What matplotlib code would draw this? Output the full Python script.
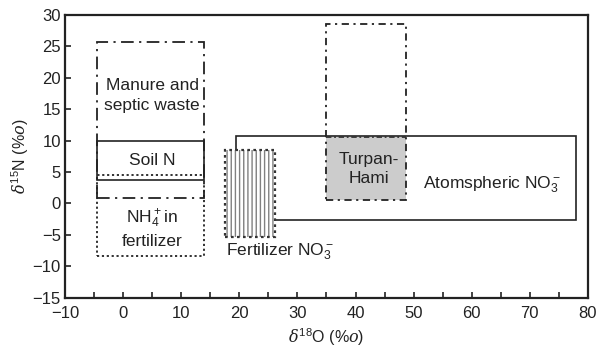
import matplotlib.pyplot as plt
from matplotlib.patches import Rectangle
import numpy as np

plt.rcParams['font.family'] = ['Liberation Sans', 'DejaVu Sans']
plt.rcParams['mathtext.fontset'] = 'custom'
plt.rcParams['mathtext.rm'] = 'Liberation Sans'
plt.rcParams['mathtext.it'] = 'DejaVu Serif:italic'

# source boxes: (x0, x1, y0, y1) in delta18O / delta15N
manure = (-4.5, 14, 0.8, 25.7)
soil_n = (-4.5, 14, 3.7, 10)
nh4_fert = (-4.5, 14, -8.4, 4.6)
fert_no3 = (17.5, 26.2, -5.3, 8.5)
atm_no3 = (19.5, 78, -2.6, 10.8)
turpan_outer = (35, 48.7, 0.5, 28.6)
turpan_inner = (35, 48.7, 0.5, 10.6)

labels = ['Manure and\nseptic waste', 'Soil N', 'NH$_4^+$in\nfertilizer',
          'Fertilizer NO$_3^-$', 'Turpan-\nHami', 'Atomspheric NO$_3^-$']
label_x = [5.0, 5.0, 5.0, 27.0, 42.3, 63.5]
label_y = [17.2, 6.9, -3.9, -7.7, 5.5, 2.9]

x_ticks = np.arange(-10, 81, 10)
y_ticks = np.arange(-15, 31, 5)

def box(ax, r, **kw):
    x0, x1, y0, y1 = r
    p = Rectangle((x0, y0), x1 - x0, y1 - y0, **kw)
    ax.add_patch(p)
    return p

fig = plt.figure(figsize=(5.99, 3.49), dpi=100)
ax = fig.add_axes([0.1085, 0.147, 0.873, 0.81])

dashdot = (0, (7, 3, 1.2, 3))
dotted = (0, (1.2, 1.5))

box(ax, atm_no3, fill=False, ec='#222222', lw=1.2, zorder=2)
box(ax, manure, fill=False, ec='#222222', lw=1.3, ls=dashdot, zorder=3)
box(ax, nh4_fert, fill=False, ec='#222222', lw=1.3, ls=dotted, zorder=3)
box(ax, soil_n, fill=False, ec='#222222', lw=1.2, zorder=4)
# hatched fertilizer box: hatch takes the edge colour, border drawn on top
box(ax, fert_no3, fc='white', ec='#808080', lw=0, hatch='||||', zorder=3)
box(ax, fert_no3, fill=False, ec='#333333', lw=1.6, ls=dotted, zorder=4)
box(ax, turpan_inner, fc='#cccccc', ec='none', zorder=3)
box(ax, turpan_outer, fill=False, ec='#222222', lw=1.3, ls=(0, (4, 2.5, 1.2, 2.5)), zorder=4)
ax.plot([turpan_inner[0], turpan_inner[1]], [turpan_inner[3], turpan_inner[3]],
        color='#333333', lw=1.3, ls=(0, (3, 1.5, 1, 1.5)), zorder=4)

for t, x, y in zip(labels, label_x, label_y):
    ax.text(x, y, t, ha='center', va='center', fontsize=12.5, color='#222222',
            linespacing=1.35, zorder=5)

ax.set_xlim(-10, 80)
ax.set_ylim(-15, 30)
ax.set_xticks(x_ticks)
ax.set_xticks(np.arange(-5, 80, 10), minor=True)
ax.set_yticks(y_ticks)
ax.set_xticklabels(['\u2212%d' % -v if v < 0 else str(v) for v in x_ticks])
ax.set_yticklabels(['\u2212%d' % -v if v < 0 else str(v) for v in y_ticks])
ax.tick_params(which='both', direction='in', length=4, width=1.2, labelsize=12,
               colors='#222222')
ax.tick_params(axis='x', pad=6)
ax.tick_params(axis='y', pad=3)
for s in ax.spines.values():
    s.set_linewidth(1.6)
    s.set_color('#222222')

ax.set_xlabel(r'$\mathit{\delta}^{18}$O ($\mathit{\%o}$)', fontsize=11.5, color='#222222', labelpad=4)
ax.set_ylabel(r'$\mathit{\delta}^{15}$N ($\mathit{\%o}$)', fontsize=11.5, color='#222222', labelpad=1)

fig.savefig('out.png', dpi=100)
